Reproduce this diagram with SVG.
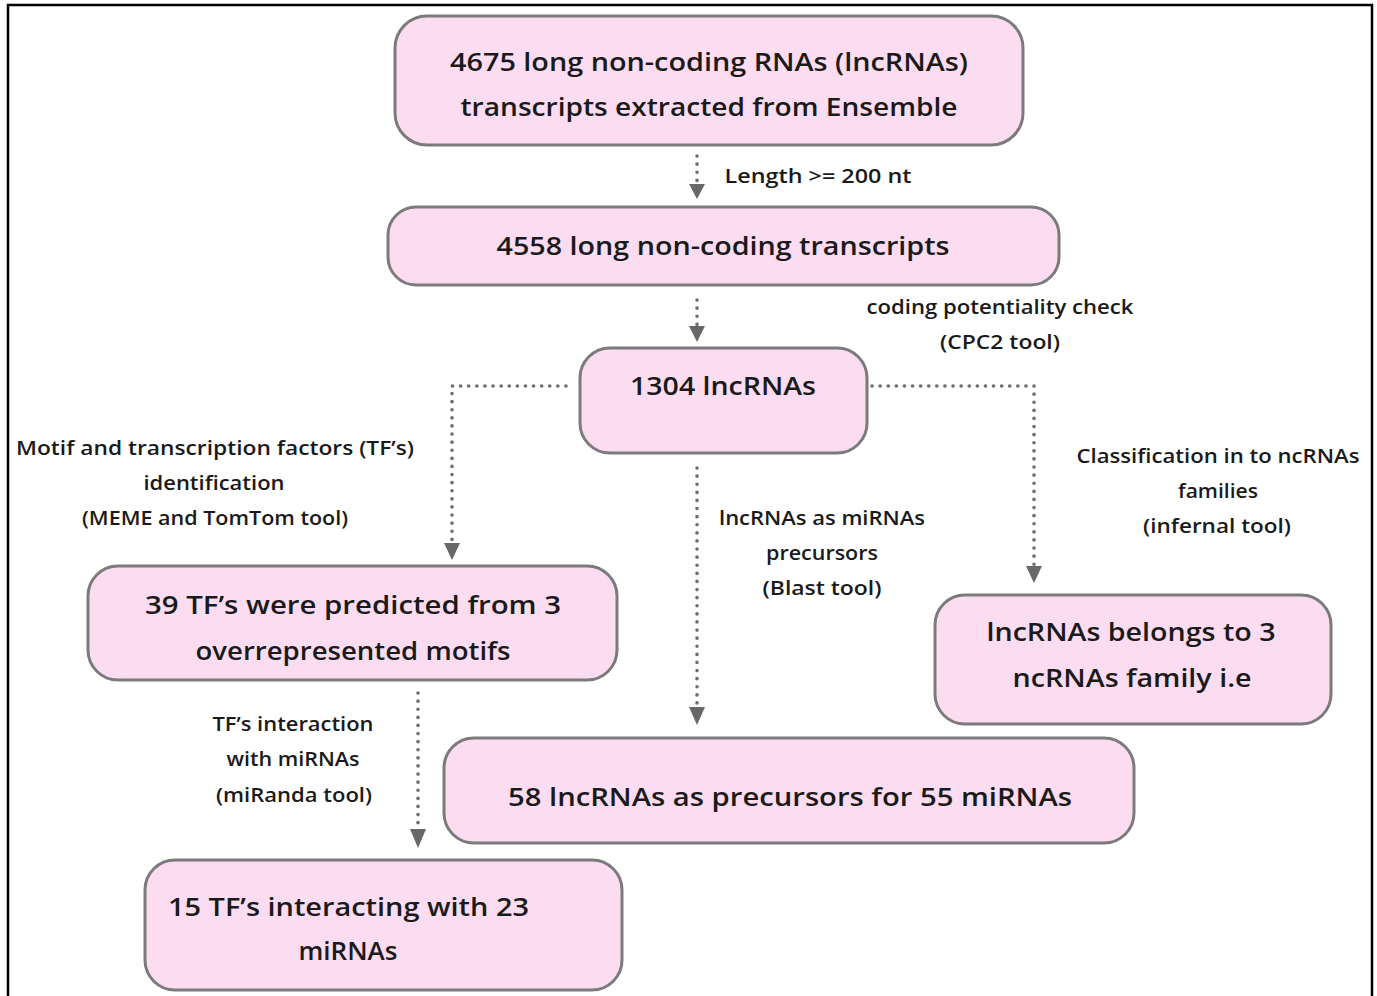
<svg xmlns="http://www.w3.org/2000/svg" width="1377" height="996" viewBox="0 0 1377 996">
<style>
.box{fill:#fcdcf1;stroke:#7b7b7b;stroke-width:3}
.t{font-family:"Open Sans","Liberation Sans",sans-serif;font-weight:600;font-size:26px;fill:#1a1a1a;text-anchor:middle}
.s{font-family:"Open Sans","Liberation Sans",sans-serif;font-weight:600;font-size:20px;fill:#1a1a1a;text-anchor:middle}
.c{fill:none;stroke:#6e6e6e;stroke-width:3.6;stroke-dasharray:0.1 8;stroke-linecap:round}
</style>
<rect width="1377" height="996" fill="#fff"/>
<path d="M8 996 V5 H1372 V996" fill="none" stroke="#000" stroke-width="2.5"/>

<g id="connectors">
<path class="c" d="M697 156 V186"/><polygon points="689,184 705,184 697,199" fill="#686868"/>
<path class="c" d="M697 300 V328"/><polygon points="689,326 705,326 697,342" fill="#686868"/>
<path class="c" d="M566 386 H452 V543"/><polygon points="444,543 460,543 452,560" fill="#686868"/>
<path class="c" d="M872 386 H1034 V566"/><polygon points="1026,566 1042,566 1034,583" fill="#686868"/>
<path class="c" d="M697 468 V707"/><polygon points="689,707 705,707 697,725" fill="#686868"/>
<path class="c" d="M418 693 V829"/><polygon points="410,829 426,829 418,848" fill="#686868"/>
</g>

<g id="lbl-length"><text class="s" x="818" y="183" textLength="187" lengthAdjust="spacingAndGlyphs">Length &gt;= 200 nt</text></g>
<g id="lbl-cpc2">
<text class="s" x="1000" y="314" textLength="267" lengthAdjust="spacingAndGlyphs">coding potentiality check</text>
<text class="s" x="1000" y="349" textLength="120" lengthAdjust="spacingAndGlyphs">(CPC2 tool)</text>
</g>
<g id="lbl-meme">
<text class="s" x="215" y="455" textLength="398" lengthAdjust="spacingAndGlyphs">Motif and transcription factors (TF’s)</text>
<text class="s" x="214" y="490" textLength="141" lengthAdjust="spacingAndGlyphs">identification</text>
<text class="s" x="215" y="525" textLength="266" lengthAdjust="spacingAndGlyphs">(MEME and TomTom tool)</text>
</g>
<g id="lbl-blast">
<text class="s" x="822" y="525" textLength="206" lengthAdjust="spacingAndGlyphs">lncRNAs as miRNAs</text>
<text class="s" x="822" y="560" textLength="112" lengthAdjust="spacingAndGlyphs">precursors</text>
<text class="s" x="822" y="595" textLength="119" lengthAdjust="spacingAndGlyphs">(Blast tool)</text>
</g>
<g id="lbl-infernal">
<text class="s" x="1218" y="463" textLength="283" lengthAdjust="spacingAndGlyphs">Classification in to ncRNAs</text>
<text class="s" x="1218" y="498" textLength="80" lengthAdjust="spacingAndGlyphs">families</text>
<text class="s" x="1217" y="533" textLength="148" lengthAdjust="spacingAndGlyphs">(infernal tool)</text>
</g>
<g id="lbl-miranda">
<text class="s" x="293" y="731" textLength="161" lengthAdjust="spacingAndGlyphs">TF’s interaction</text>
<text class="s" x="293" y="766" textLength="133" lengthAdjust="spacingAndGlyphs">with miRNAs</text>
<text class="s" x="294" y="802" textLength="156" lengthAdjust="spacingAndGlyphs">(miRanda tool)</text>
</g>

<g id="n-4675">
<rect class="box" x="395" y="16" width="628" height="129" rx="32"/>
<text class="t" x="709" y="71" textLength="518" lengthAdjust="spacingAndGlyphs">4675 long non-coding RNAs (lncRNAs)</text>
<text class="t" x="709" y="116" textLength="497" lengthAdjust="spacingAndGlyphs">transcripts extracted from Ensemble</text>
</g>
<g id="n-4558">
<rect class="box" x="388" y="207" width="671" height="78" rx="28"/>
<text class="t" x="723" y="255" textLength="453" lengthAdjust="spacingAndGlyphs">4558 long non-coding transcripts</text>
</g>
<g id="n-1304">
<rect class="box" x="580" y="348" width="287" height="105" rx="30"/>
<text class="t" x="723" y="395" textLength="186" lengthAdjust="spacingAndGlyphs">1304 lncRNAs</text>
</g>
<g id="n-39tf">
<rect class="box" x="88" y="566" width="529" height="114" rx="30"/>
<text class="t" x="353" y="614" textLength="416" lengthAdjust="spacingAndGlyphs">39 TF’s were predicted from 3</text>
<text class="t" x="353" y="660" textLength="315" lengthAdjust="spacingAndGlyphs">overrepresented motifs</text>
</g>
<g id="n-families">
<rect class="box" x="935" y="595" width="396" height="129" rx="30"/>
<text class="t" x="1131" y="641" textLength="289" lengthAdjust="spacingAndGlyphs">lncRNAs belongs to 3</text>
<text class="t" x="1132" y="687" textLength="239" lengthAdjust="spacingAndGlyphs">ncRNAs family i.e</text>
</g>
<g id="n-58">
<rect class="box" x="444" y="738" width="690" height="105" rx="30"/>
<text class="t" x="790" y="806" textLength="564" lengthAdjust="spacingAndGlyphs">58 lncRNAs as precursors for 55 miRNAs</text>
</g>
<g id="n-15tf">
<rect class="box" x="145" y="860" width="477" height="130" rx="30"/>
<text class="t" x="168" y="916" textLength="361" lengthAdjust="spacingAndGlyphs" style="text-anchor:start">15 TF’s interacting with 23</text>
<text class="t" x="348" y="960" textLength="99" lengthAdjust="spacingAndGlyphs">miRNAs</text>
</g>
</svg>
